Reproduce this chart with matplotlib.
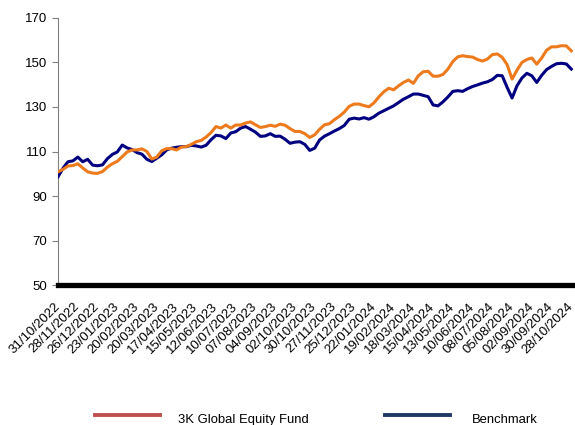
import matplotlib
matplotlib.use("Agg")
import matplotlib.pyplot as plt
import matplotlib.dates as mdates
from matplotlib.lines import Line2D
import datetime as dt

plt.rcParams['font.family'] = ['Liberation Sans', 'DejaVu Sans']

# weekly observations starting 31/10/2022
start = dt.date(2022, 10, 31)
fund = [100.9, 102.0, 103.5, 103.7, 104.5, 102.6, 100.9, 100.3, 100.2, 101.0,
        103.0, 104.5, 105.6, 107.7, 109.8, 110.7, 110.7, 111.2, 110.0, 106.6,
        107.5, 110.3, 111.3, 111.3, 110.7, 112.0, 112.2, 113.2, 114.4, 115.0,
        116.5, 118.5, 121.2, 120.5, 121.9, 120.5, 121.9, 121.9, 122.8, 123.3,
        122.0, 120.8, 121.2, 121.8, 121.3, 122.3, 121.8, 120.3, 119.0, 119.0,
        118.0, 116.3, 117.5, 120.0, 122.0, 122.5, 124.3, 125.8, 127.7, 130.3,
        131.3, 131.3, 130.6, 130.1, 131.8, 134.5, 136.8, 138.4, 137.7, 139.5,
        141.0, 142.1, 140.6, 144.0, 145.8, 146.0, 143.8, 143.8, 144.6, 147.0,
        150.4, 152.5, 153.0, 152.6, 152.4, 151.3, 150.6, 151.5, 153.5, 153.8,
        152.3, 149.0, 142.5, 146.5, 150.0, 151.3, 152.0, 149.2, 152.0, 155.5,
        157.0, 157.0, 157.5, 157.4, 155.2]
benchmark = [98.7, 102.5, 105.4, 105.8, 107.5, 105.4, 106.5, 103.9, 103.6, 104.0,
             106.8, 108.7, 109.8, 112.9, 111.6, 110.9, 109.5, 108.8, 106.5, 105.5,
             107.0, 108.5, 110.7, 111.5, 111.9, 112.2, 112.2, 112.8, 112.5, 112.0,
             112.8, 115.3, 117.3, 117.0, 115.8, 118.3, 118.9, 120.5, 121.2, 120.0,
             118.7, 116.8, 117.0, 118.0, 116.8, 116.9, 115.5, 113.7, 114.2, 114.4,
             113.2, 110.5, 111.5, 115.2, 116.9, 118.0, 119.2, 120.3, 121.7, 124.5,
             125.0, 124.6, 125.2, 124.5, 125.6, 127.2, 128.3, 129.4, 130.5, 132.0,
             133.5, 134.6, 135.8, 135.8, 135.2, 134.6, 130.9, 130.5, 132.3, 134.5,
             137.0, 137.3, 137.0, 138.2, 139.2, 139.9, 140.7, 141.3, 142.3, 144.2,
             144.0, 138.8, 134.0, 139.5, 143.0, 145.1, 144.0, 141.0, 144.2, 146.8,
             148.2, 149.4, 149.6, 149.3, 147.0]
dates = [start + dt.timedelta(days=7 * i) for i in range(len(fund))]
tick_dates = [start + dt.timedelta(days=28 * i) for i in range(27)]
yticks = [50, 70, 90, 110, 130, 150, 170]

fig = plt.figure(figsize=(5.75, 4.25), dpi=100)
ax = fig.add_axes([0.101, 0.329, 0.895, 0.629])

ax.plot(dates, benchmark, color='#000080', lw=2.2, zorder=3)
ax.plot(dates, fund, color='#EE7A1E', lw=2.2, zorder=3)

ax.set_ylim(50, 170)
ax.set_yticks(yticks)
ax.set_xlim(start, dt.date(2024, 10, 30))
ax.set_xticks(tick_dates)
ax.xaxis.set_major_formatter(mdates.DateFormatter('%d/%m/%Y'))
ax.tick_params(axis='x', length=0, pad=14, labelsize=9.5)
ax.tick_params(axis='y', length=4, color='#808080', labelsize=9.5, pad=4)
plt.setp(ax.get_xticklabels(), rotation=45, ha='right', va='center',
         rotation_mode='anchor')

for s in ['top', 'right']:
    ax.spines[s].set_visible(False)
ax.spines['left'].set_color('#808080')
ax.spines['bottom'].set_color('black')
ax.spines['bottom'].set_linewidth(3.8)

# legend drawn as figure artists, text sits a bit below the swatch line
legend_items = [('3K Global Equity Fund', '#C0504D', 95, 178),
                ('Benchmark', '#1F3864', 385, 472)]
W, H = 575.0, 425.0
for label, col, x0, xt in legend_items:
    fig.add_artist(Line2D([x0 / W, (x0 + 65) / W], [1 - 415 / H, 1 - 415 / H],
                          transform=fig.transFigure, color=col, lw=2.8))
    fig.text(xt / W, 1 - 420 / H, label, fontsize=9.4, va='center', ha='left')

fig.savefig('out.png', dpi=100)
